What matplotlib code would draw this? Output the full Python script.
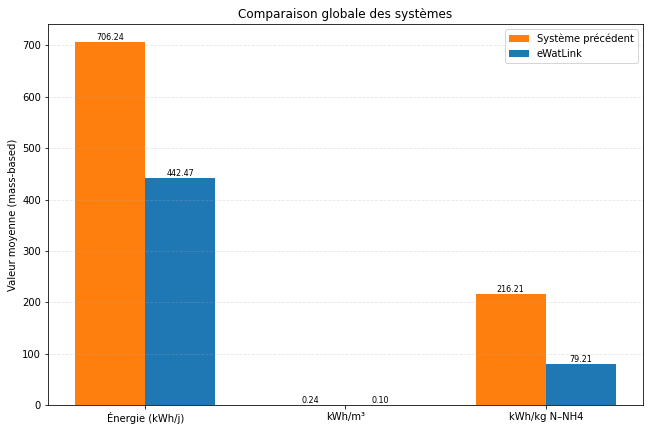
import numpy as np
from matplotlib import pyplot as plt

categories = ['Énergie (kWh/j)', 'kWh/m³', 'kWh/kg N–NH4']
previous_values = [706.24, 0.24, 216.21]
ewatlink_values = [442.47, 0.10, 79.21]

x = np.arange(len(categories))
width = 0.35

fig, ax = plt.subplots(figsize=(650 / 72, 431 / 72), dpi=72)
b1 = ax.bar(x - width / 2, previous_values, width, label='Système précédent', color='#ff7f0e')
b2 = ax.bar(x + width / 2, ewatlink_values, width, label='eWatLink', color='#1f77b4')

ax.bar_label(b1, fmt='%.2f', fontsize=8)
ax.bar_label(b2, fmt='%.2f', fontsize=8)

ax.set_xticks(x)
ax.set_xticklabels(categories)
ax.set_ylabel('Valeur moyenne (mass-based)')
ax.set_title('Comparaison globale des systèmes', fontsize=12)
ax.grid(axis='y', linestyle='--', alpha=0.3)
ax.legend()

fig.subplots_adjust(left=0.074, right=0.989, top=0.944, bottom=0.06)
plt.savefig('out.png', dpi=72)
